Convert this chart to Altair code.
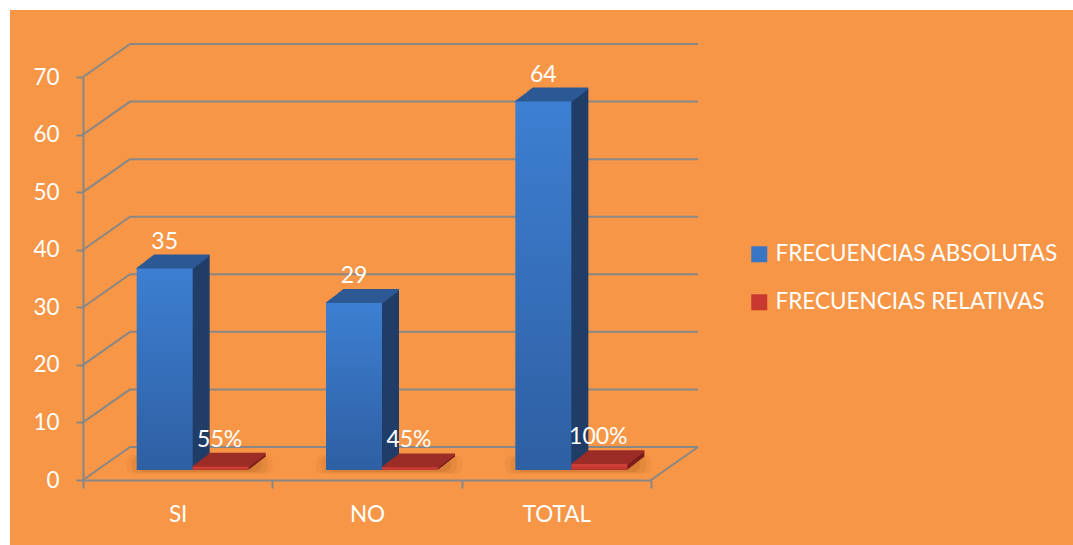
import altair as alt
import pandas as pd

categories = ["SI", "NO", "TOTAL"]
absolutas = [35, 29, 64]
relativas = [0.55, 0.45, 1.0]
abs_labels = ["35", "29", "64"]
rel_labels = ["55%", "45%", "100%"]
series = ["FRECUENCIAS ABSOLUTAS", "FRECUENCIAS RELATIVAS"]
y_ticks = [0, 10, 20, 30, 40, 50, 60, 70]

W, H = 568, 403
WALL_DX, WALL_DY = 47, -33
BASE_DY = -10
BAR_W = 56
DEPTH_X, DEPTH_Y = 17, -13
GRID = "#878787"
FONT = "Lato"

df_abs = pd.DataFrame({"cat": categories, "val": absolutas, "label": abs_labels})
df_rel = pd.DataFrame({"cat": categories, "val": relativas, "label": rel_labels})
df_grid = pd.DataFrame({"val": y_ticks})
df_leg = pd.DataFrame({"serie": series})
df_one = pd.DataFrame({"a": [0]})

x_axis = alt.Axis(title=None, labelAngle=0, tickBand="extent", tickSize=8, tickWidth=2,
                  tickColor=GRID, domainColor=GRID, domainWidth=2, labelColor="white",
                  labelFont=FONT, labelFontSize=22.5, labelPadding=15, grid=False, zindex=1)
y_axis = alt.Axis(title=None, values=y_ticks, tickSize=7, tickWidth=2, tickColor=GRID,
                  domainColor=GRID, domainWidth=2, labelColor="white", labelFont=FONT,
                  labelFontSize=22.5, labelPadding=17, grid=False, zindex=1)


def X():
    return alt.X("cat:N", sort=categories,
                 scale=alt.Scale(domain=categories, paddingInner=0, paddingOuter=0),
                 axis=x_axis)


def Y():
    return alt.Y("val:Q", scale=alt.Scale(domain=[0, 70], nice=False, zero=True),
                 axis=y_axis, stack=None)


layers = []

# orange chart area
layers.append(alt.Chart(df_one).mark_rect(color="#F79646").encode(
    x=alt.value(-73), x2=alt.value(990), y=alt.value(-67), y2=alt.value(468)))

# back wall gridlines
layers.append(alt.Chart(df_grid).mark_rule(color=GRID, strokeWidth=2, yOffset=WALL_DY).encode(
    y=Y(), x=alt.value(WALL_DX), x2=alt.value(W + WALL_DX)))
# side wall diagonals
layers.append(alt.Chart(df_grid).mark_rule(color=GRID, strokeWidth=2, y2Offset=WALL_DY).encode(
    y=Y(), y2=alt.Y2("val:Q"), x=alt.value(0), x2=alt.value(WALL_DX)))
# floor right edge
layers.append(alt.Chart(df_grid[df_grid.val == 0]).mark_rule(color=GRID, strokeWidth=2, y2Offset=WALL_DY).encode(
    y=Y(), y2=alt.Y2("val:Q"), x=alt.value(W), x2=alt.value(W + WALL_DX)))

# legend (invisible marks, visible symbols)
layers.append(alt.Chart(df_leg).mark_point(shape="square", filled=True, opacity=0, size=1).encode(
    x=alt.value(0), y=alt.value(0),
    color=alt.Color("serie:N", sort=series,
                    scale=alt.Scale(domain=series, range=["#3a76c6", "#c9392f"]),
                    legend=alt.Legend(title=None, orient="none", legendX=665, legendY=166,
                                      symbolType="square", symbolSize=256, symbolOpacity=1,
                                      symbolStrokeWidth=0, labelColor="white", labelFont=FONT,
                                      labelFontSize=22.5, labelOffset=5, rowPadding=25,
                                      padding=0, labelLimit=400))))

# soft floor shadows (behind / under each pair of bars)
for i, (w, op) in enumerate([(146, 0.07), (136, 0.09), (124, 0.12)]):
    layers.append(alt.Chart(df_abs).mark_bar(
        width=w, xOffset=22, yOffset=BASE_DY + 4 - i, y2Offset=BASE_DY - 15 + i,
        color="#8a4208", opacity=op, cornerRadius=7).encode(
        x=X(), y=alt.datum(0), y2=alt.datum(0)))

specs = [
    (df_abs, -13, "#1f3d66", "#2c5993",
     alt.Gradient(gradient="linear", x1=0, x2=0, y1=0, y2=1,
                  stops=[alt.GradientStop(color="#3d7fd2", offset=0),
                         alt.GradientStop(color="#2e5fa2", offset=1)])),
    (df_rel, 43, "#7a1d18", "#9c2c26",
     alt.Gradient(gradient="linear", x1=0, x2=0, y1=0, y2=1,
                  stops=[alt.GradientStop(color="#d9443b", offset=0),
                         alt.GradientStop(color="#b8332c", offset=1)])),
]

steps = list(range(1, DEPTH_X + 1))
for df, xo, side_c, top_c, front_c in specs:
    for k in steps:
        dy = DEPTH_Y * k / DEPTH_X
        layers.append(alt.Chart(df).mark_bar(
            width=BAR_W, xOffset=xo + k, yOffset=BASE_DY + dy, y2Offset=BASE_DY + dy,
            color=side_c).encode(x=X(), y=Y(), y2=alt.datum(0)))
    for k in [0] + steps:
        dy = DEPTH_Y * k / DEPTH_X
        layers.append(alt.Chart(df).mark_bar(
            width=BAR_W, xOffset=xo + k, yOffset=BASE_DY + dy - 1, y2Offset=BASE_DY + dy + 1,
            color=top_c).encode(x=X(), y=Y(), y2=alt.Y2("val:Q")))
    layers.append(alt.Chart(df).mark_bar(
        width=BAR_W, xOffset=xo, yOffset=BASE_DY, y2Offset=BASE_DY,
        color=front_c).encode(x=X(), y=Y(), y2=alt.datum(0)))

# data labels
for df, xo in [(df_abs, -13), (df_rel, 42)]:
    layers.append(alt.Chart(df).mark_text(
        color="white", font=FONT, fontSize=23, baseline="middle", align="center",
        xOffset=xo, yOffset=-37).encode(x=X(), y=Y(), text="label:N"))

chart = alt.layer(*layers).properties(
    width=W, height=H, autosize="none",
    padding={"left": 83, "top": 77, "right": 422, "bottom": 65},
    background="white",
).configure_view(strokeWidth=0)

chart.save("out.html", embed_options={"renderer": "svg", "actions": False})
